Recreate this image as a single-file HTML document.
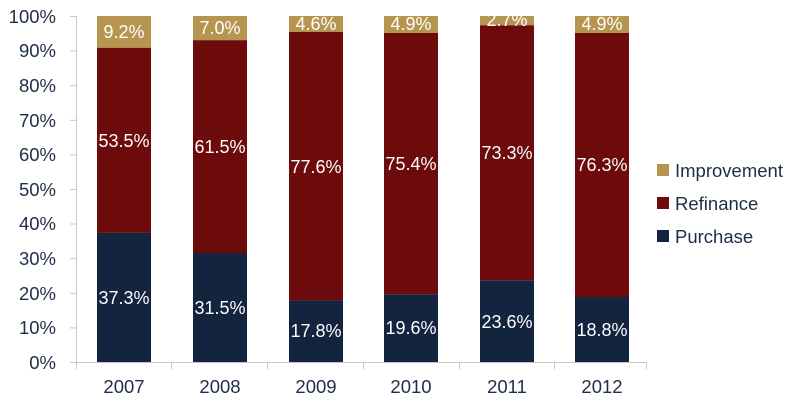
<!DOCTYPE html>
<html><head><meta charset="utf-8"><style>
html,body{margin:0;padding:0;background:#fff;}
svg{display:block;font-family:"Liberation Sans",sans-serif;}
.ax{fill:#1f2d48;font-size:18.5px;}
.lb{fill:#fff;font-size:18px;text-anchor:middle;}
</style></head><body>
<svg width="800" height="406" viewBox="0 0 800 406">
<g stroke="#c8c8c8" stroke-width="1">
<line x1="76.5" y1="16" x2="76.5" y2="362"/>
<line x1="70" y1="16.5" x2="76" y2="16.5"/><line x1="70" y1="51" x2="76" y2="51"/><line x1="70" y1="85.7" x2="76" y2="85.7"/><line x1="70" y1="120.3" x2="76" y2="120.3"/><line x1="70" y1="154.9" x2="76" y2="154.9"/><line x1="70" y1="189.5" x2="76" y2="189.5"/><line x1="70" y1="224" x2="76" y2="224"/><line x1="70" y1="258.7" x2="76" y2="258.7"/><line x1="70" y1="293.3" x2="76" y2="293.3"/><line x1="70" y1="327.9" x2="76" y2="327.9"/>
<line x1="70" y1="362.5" x2="647" y2="362.5"/>
<line x1="76.5" y1="362" x2="76.5" y2="369"/><line x1="171.5" y1="362" x2="171.5" y2="369"/><line x1="267.5" y1="362" x2="267.5" y2="369"/><line x1="363.5" y1="362" x2="363.5" y2="369"/><line x1="459.5" y1="362" x2="459.5" y2="369"/><line x1="554.5" y1="362" x2="554.5" y2="369"/><line x1="646.5" y1="362" x2="646.5" y2="369"/>
</g>
<g class="ax" text-anchor="end">
<text x="56" y="23">100%</text><text x="56" y="57">90%</text><text x="56" y="92">80%</text><text x="56" y="127">70%</text><text x="56" y="161">60%</text><text x="56" y="196">50%</text><text x="56" y="230">40%</text><text x="56" y="265">30%</text><text x="56" y="300">20%</text><text x="56" y="334">10%</text><text x="56" y="369">0%</text>
</g>
<g class="ax" text-anchor="middle">
<text x="124" y="393">2007</text><text x="220" y="393">2008</text><text x="316" y="393">2009</text><text x="411" y="393">2010</text><text x="507" y="393">2011</text><text x="602" y="393">2012</text>
</g>
<g>
<rect x="97" y="16" width="54" height="31.8" fill="#b5954f"/><rect x="97" y="47.8" width="54" height="185.1" fill="#6d0a0c"/><rect x="97" y="232.9" width="54" height="129.1" fill="#13243f"/>
<rect x="193" y="16" width="54" height="24.2" fill="#b5954f"/><rect x="193" y="40.2" width="54" height="212.8" fill="#6d0a0c"/><rect x="193" y="253" width="54" height="109" fill="#13243f"/>
<rect x="289" y="16" width="54" height="15.9" fill="#b5954f"/><rect x="289" y="31.9" width="54" height="268.5" fill="#6d0a0c"/><rect x="289" y="300.4" width="54" height="61.6" fill="#13243f"/>
<rect x="384" y="16" width="54" height="17" fill="#b5954f"/><rect x="384" y="33" width="54" height="261.2" fill="#6d0a0c"/><rect x="384" y="294.2" width="54" height="67.8" fill="#13243f"/>
<rect x="480" y="16" width="54" height="9.3" fill="#b5954f"/><rect x="480" y="25.3" width="54" height="255" fill="#6d0a0c"/><rect x="480" y="280.3" width="54" height="81.7" fill="#13243f"/>
<rect x="575" y="16" width="54" height="17" fill="#b5954f"/><rect x="575" y="33" width="54" height="264" fill="#6d0a0c"/><rect x="575" y="297" width="54" height="65" fill="#13243f"/>
</g>
<g class="lb">
<text x="124" y="38">9.2%</text><text x="124" y="147">53.5%</text><text x="124" y="304">37.3%</text>
<text x="220" y="34">7.0%</text><text x="220" y="153">61.5%</text><text x="220" y="314">31.5%</text>
<text x="316" y="30">4.6%</text><text x="316" y="173">77.6%</text><text x="316" y="337">17.8%</text>
<text x="411" y="30">4.9%</text><text x="411" y="170">75.4%</text><text x="411" y="334">19.6%</text>
<text x="507" y="26">2.7%</text><text x="507" y="159">73.3%</text><text x="507" y="328">23.6%</text>
<text x="602" y="30">4.9%</text><text x="602" y="171">76.3%</text><text x="602" y="336">18.8%</text>
</g>
<rect x="657" y="164" width="12" height="12" fill="#b5954f"/>
<rect x="657" y="197" width="12" height="12" fill="#6d0a0c"/>
<rect x="657" y="230" width="12" height="12" fill="#13243f"/>
<g class="ax"><text x="675" y="177">Improvement</text><text x="675" y="210">Refinance</text><text x="675" y="243">Purchase</text></g>
</svg>
</body></html>
